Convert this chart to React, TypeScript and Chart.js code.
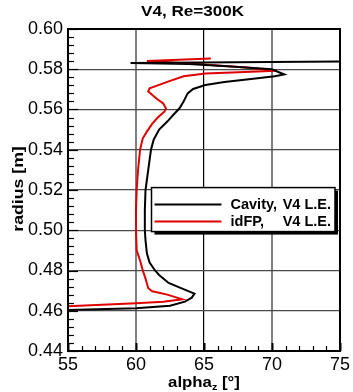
import React, { useEffect, useRef } from 'react';
import { Chart, registerables } from 'chart.js';

Chart.register(...registerables);

const titleText = 'V4, Re=300K';
const xTitleMain = 'alpha';
const xTitleSub = 'z';
const xTitleTail = ' [°]';
const yTitle = 'radius [m]';
const seriesNames = ['Cavity,', 'idFP,'];
const seriesSuffix = 'V4 L.E.';

const xTicks = [55, 60, 65, 70, 75];
const yTicks = [0.44, 0.46, 0.48, 0.5, 0.52, 0.54, 0.56, 0.58, 0.6];

const cavityAlpha = [
  75.0, 59.6, 63.9, 67.0, 70.0, 70.9, 70.2, 68.3, 66.5, 65.1, 64.2, 63.8,
  63.5, 63.2, 62.7, 62.3, 61.7, 61.3, 61.1, 60.9, 60.7, 60.65, 60.65, 60.7,
  60.8, 61.0, 61.4, 61.7, 62.4, 63.4, 64.3, 64.1, 63.6, 62.5, 60.0, 55.0,
];
const cavityRadius = [
  0.5838, 0.5831, 0.5826, 0.5814, 0.5800, 0.5774, 0.5765, 0.5750, 0.5737, 0.5722, 0.5702, 0.5680,
  0.5640, 0.5606, 0.5570, 0.5540, 0.5500, 0.5450, 0.5400, 0.5300, 0.5200, 0.5100, 0.5000, 0.4950,
  0.4885, 0.4840, 0.4800, 0.4778, 0.4738, 0.4710, 0.4685, 0.4665, 0.4645, 0.4625, 0.4612, 0.4604,
];

const idfpAlpha = [
  65.5, 60.8, 63.9, 66.8, 68.3, 70.3, 68.0, 65.1, 63.5, 62.4, 61.4, 61.0,
  60.9, 61.5, 62.0, 62.2, 62.1, 61.6, 61.2, 60.8, 60.5, 60.3, 60.15, 60.05,
  60.0, 60.0, 60.05, 60.3, 60.5, 60.7, 60.9, 61.2, 62.3, 63.4, 62.0, 60.0, 55.0,
];
const idfpRadius = [
  0.5854, 0.5841, 0.5829, 0.5815, 0.5807, 0.5792, 0.5786, 0.5779, 0.5765, 0.5740, 0.5715, 0.5705,
  0.5690, 0.5655, 0.5630, 0.5606, 0.5590, 0.5560, 0.5530, 0.5490, 0.5457, 0.5400, 0.5300, 0.5200,
  0.5100, 0.5000, 0.4900, 0.4850, 0.4800, 0.4760, 0.4712, 0.4697, 0.4680, 0.4657, 0.4645, 0.4637, 0.4622,
];

const FONT = "'Liberation Sans', Arial, sans-serif";
const RED = '#e00000';

const decorPlugin = {
  id: 'decor',
  afterDraw(chart: any) {
    const ctx = chart.ctx as CanvasRenderingContext2D;
    const { left, right, top, bottom } = chart.chartArea;
    const xs = chart.scales.x;
    const ys = chart.scales.y;
    ctx.save();

    // frame
    ctx.strokeStyle = '#000';
    ctx.lineWidth = 2;
    ctx.strokeRect(left, top, right - left, bottom - top);

    // left ticks (inward), minor every 0.004
    ctx.lineWidth = 1.2;
    for (let i = 0; i <= 40; i++) {
      const v = 0.44 + i * 0.004;
      const py = Math.round(ys.getPixelForValue(v)) + 0.5;
      const len = i % 5 === 0 ? 10 : 6;
      ctx.beginPath();
      ctx.moveTo(left, py);
      ctx.lineTo(left + len, py);
      ctx.stroke();
    }
    // bottom ticks (inward), minor every 1
    for (let i = 0; i <= 20; i++) {
      const v = 55 + i;
      const px = Math.round(xs.getPixelForValue(v)) + 0.5;
      const len = i % 5 === 0 ? 8 : 5;
      ctx.lineWidth = i % 5 === 0 ? 2 : 1.2;
      ctx.beginPath();
      ctx.moveTo(px, bottom);
      ctx.lineTo(px, bottom - len);
      ctx.stroke();
    }

    // title
    const w = right - left;
    ctx.fillStyle = '#000';
    ctx.font = `bold 14px ${FONT}`;
    ctx.textAlign = 'center';
    ctx.textBaseline = 'alphabetic';
    ctx.save();
    ctx.translate(left + w * 0.458, 16);
    ctx.scale(1.22, 1);
    ctx.fillText(titleText, 0, 0);
    ctx.restore();

    // x title with subscript
    ctx.save();
    ctx.translate(left + w * 0.5, 386.5);
    ctx.scale(1.2, 1);
    ctx.font = `bold 14px ${FONT}`;
    const wMain = ctx.measureText(xTitleMain).width;
    const wTail = ctx.measureText(xTitleTail).width;
    ctx.font = `bold 9px ${FONT}`;
    const wSub = ctx.measureText(xTitleSub).width;
    const total = wMain + wSub + wTail;
    let cx = -total / 2;
    ctx.textAlign = 'left';
    ctx.font = `bold 14px ${FONT}`;
    ctx.fillText(xTitleMain, cx, 0);
    cx += wMain;
    ctx.font = `bold 9px ${FONT}`;
    ctx.fillText(xTitleSub, cx, 3);
    cx += wSub;
    ctx.font = `bold 14px ${FONT}`;
    ctx.fillText(xTitleTail, cx, 0);
    ctx.restore();

    // y title
    ctx.save();
    ctx.translate(23, (top + bottom) / 2 - 1);
    ctx.rotate(-Math.PI / 2);
    ctx.scale(1.22, 1);
    ctx.font = `bold 14.5px ${FONT}`;
    ctx.textAlign = 'center';
    ctx.fillText(yTitle, 0, 0);
    ctx.restore();

    // legend box
    const bx = left + w * 0.307;
    const by = top + (bottom - top) * 0.4925;
    const bw = right - 5 - bx;
    const bh = 44;
    ctx.fillStyle = '#000';
    ctx.fillRect(bx + 3, by + 3, bw, bh);
    ctx.fillStyle = '#fff';
    ctx.fillRect(bx, by, bw, bh);
    ctx.strokeStyle = '#000';
    ctx.lineWidth = 1.5;
    ctx.strokeRect(bx, by, bw, bh);
    const rows = [
      { color: '#000', y: by + 17 },
      { color: RED, y: by + 34 },
    ];
    rows.forEach((r, i) => {
      ctx.strokeStyle = r.color;
      ctx.lineWidth = 2;
      ctx.beginPath();
      ctx.moveTo(bx + 3, r.y);
      ctx.lineTo(bx + 70, r.y);
      ctx.stroke();
      ctx.fillStyle = '#000';
      ctx.font = `bold 14.5px ${FONT}`;
      ctx.textBaseline = 'middle';
      ctx.textAlign = 'left';
      ctx.fillText(seriesNames[i], bx + 79, r.y);
      ctx.textAlign = 'right';
      ctx.fillText(seriesSuffix, bx + bw - 4, r.y);
    });

    ctx.restore();
  },
};

export default function App() {
  const canvasRef = useRef<HTMLCanvasElement | null>(null);

  useEffect(() => {
    document.body.style.margin = '0';
    const canvas = canvasRef.current;
    if (!canvas) return;
    const chart = new Chart(canvas, {
      type: 'scatter',
      data: {
        datasets: [
          {
            label: 'Cavity, V4 L.E.',
            data: cavityAlpha.map((a, i) => ({ x: a, y: cavityRadius[i] })),
            showLine: true,
            borderColor: '#000',
            backgroundColor: '#000',
            borderWidth: 2,
            pointRadius: 0,
            tension: 0,
          },
          {
            label: 'idFP,   V4 L.E.',
            data: idfpAlpha.map((a, i) => ({ x: a, y: idfpRadius[i] })),
            showLine: true,
            borderColor: RED,
            backgroundColor: RED,
            borderWidth: 2,
            pointRadius: 0,
            tension: 0,
          },
        ],
      },
      options: {
        animation: false,
        responsive: false,
        maintainAspectRatio: false,
        layout: { padding: { top: 29, right: 11, left: 0, bottom: 0 } },
        plugins: {
          legend: { display: false },
          title: { display: false },
          tooltip: { enabled: false },
        },
        scales: {
          x: {
            type: 'linear',
            min: 55,
            max: 75,
            afterBuildTicks: (s: any) => {
              s.ticks = xTicks.map((v) => ({ value: v }));
            },
            afterFit: (s: any) => {
              s.height = 41;
            },
            ticks: {
              color: '#000',
              font: { family: FONT, size: 18 },
              padding: 3,
              maxRotation: 0,
              callback: (v: any) => String(v),
            },
            grid: {
              drawTicks: false,
              color: (c: any) => {
                const v = c.tick ? c.tick.value : 0;
                if (v === 65) return '#000';
                if (v === 60 || v === 70) return '#808080';
                return 'rgba(0,0,0,0)';
              },
              lineWidth: (c: any) => {
                const v = c.tick ? c.tick.value : 0;
                return v === 65 ? 1.2 : 2;
              },
            },
            border: { display: false },
          },
          y: {
            type: 'linear',
            min: 0.44,
            max: 0.6,
            afterBuildTicks: (s: any) => {
              s.ticks = yTicks.map((v) => ({ value: v }));
            },
            afterFit: (s: any) => {
              s.width = 68;
            },
            ticks: {
              color: '#000',
              font: { family: FONT, size: 18 },
              padding: 5,
              callback: (v: any) => Number(v).toFixed(2),
            },
            grid: {
              drawTicks: false,
              color: '#4a4a4a',
              lineWidth: 1.2,
            },
            border: { display: false },
          },
        },
      },
      plugins: [decorPlugin],
    });
    return () => chart.destroy();
  }, []);

  return (
    <div style={{ width: 353, height: 392 }}>
      <canvas ref={canvasRef} width={353} height={392} />
    </div>
  );
}
